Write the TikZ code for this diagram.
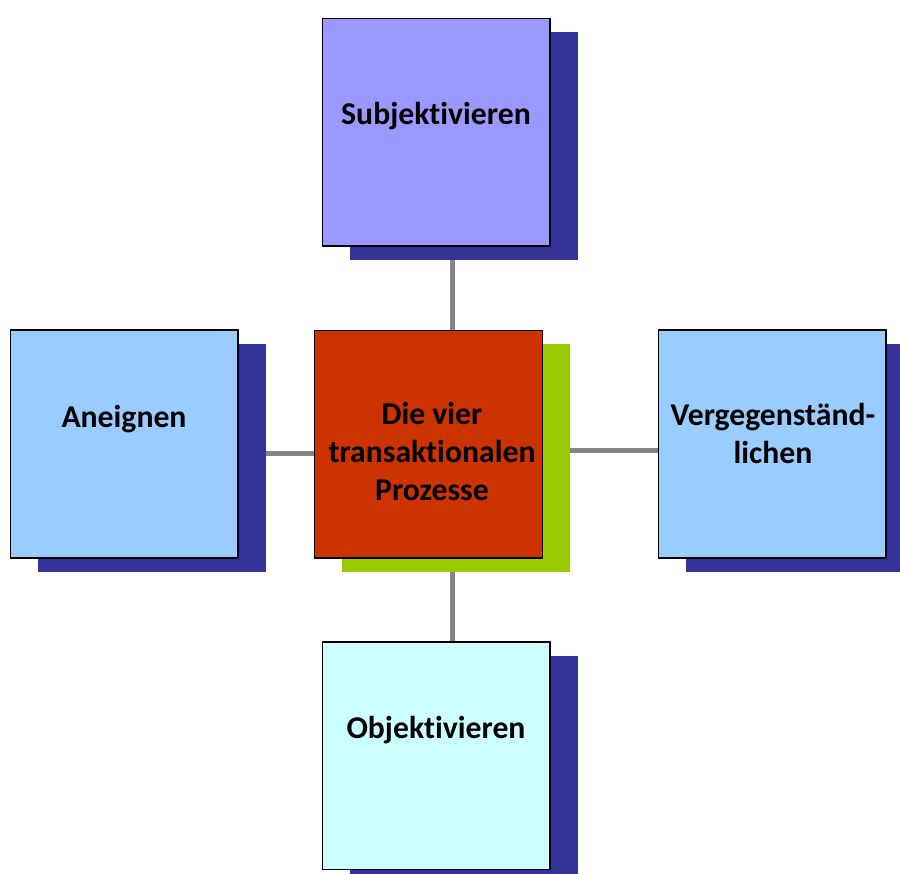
\documentclass[tikz,border=0pt]{standalone}
\usepackage{fontspec}
\setmainfont{Carlito}[Ligatures=NoCommon]
\usetikzlibrary{shadows,backgrounds}
\definecolor{cTop}{HTML}{9999FF}
\definecolor{cSide}{HTML}{99CCFF}
\definecolor{cBot}{HTML}{CCFFFF}
\definecolor{cMid}{HTML}{CC3300}
\definecolor{cNavy}{HTML}{333399}
\definecolor{cLime}{HTML}{99CC00}
\definecolor{cLine}{HTML}{858585}
\tikzset{
  box/.style={draw=black, line width=1.5pt, minimum width=227.7pt, minimum height=227.7pt, inner sep=0pt, anchor=center,
    general shadow={fill=#1, shadow xshift=27.7pt, shadow yshift=-13.7pt}},
  lbl/.style={font=\bfseries\fontsize{31.7}{38}\selectfont, align=center, inner sep=0pt, anchor=base},
  conn/.style={draw=cLine, line width=5.5pt}
}
\begin{document}
\begin{tikzpicture}[x=1pt,y=-1pt]
\useasboundingbox (0,0) rectangle (900,874);
\node[box=cNavy, fill=cTop] (top) at (436.2,132.2) {};
\node[box=cNavy, fill=cSide] (left) at (124.2,444) {};
\node[box=cLime, fill=cMid] (mid) at (428.5,444.2) {};
\node[box=cNavy, fill=cSide] (right) at (772.3,444) {};
\node[box=cNavy, fill=cBot] (bot) at (436.2,755.8) {};
\node[lbl] (tTop) at (436,125) {Subjektivieren};
\node[lbl] (tLeft) at (124,427.3) {Aneignen};
\node[lbl] (tMid) at (432,500.7) {Die vier\\transaktionalen\\Prozesse};
\node[lbl] (tRight) at (773,464) {Vergegenständ-\\lichen};
\node[lbl] (tBot) at (436,738.3) {Objektivieren};
\begin{scope}[on background layer]
\draw[conn] ([xshift=16.1pt]top.south) -- ([xshift=16.1pt]top.south |- mid.north);
\draw[conn] ([xshift=16.1pt]bot.north) -- ([xshift=16.1pt]bot.north |- mid.south);
\draw[conn] ([yshift=-9.3pt]left.east) -- ([yshift=-9.3pt]left.east -| mid.west);
\draw[conn] ([yshift=-6.7pt]right.west) -- ([yshift=-6.7pt]right.west -| mid.east);
\end{scope}
\end{tikzpicture}
\end{document}
